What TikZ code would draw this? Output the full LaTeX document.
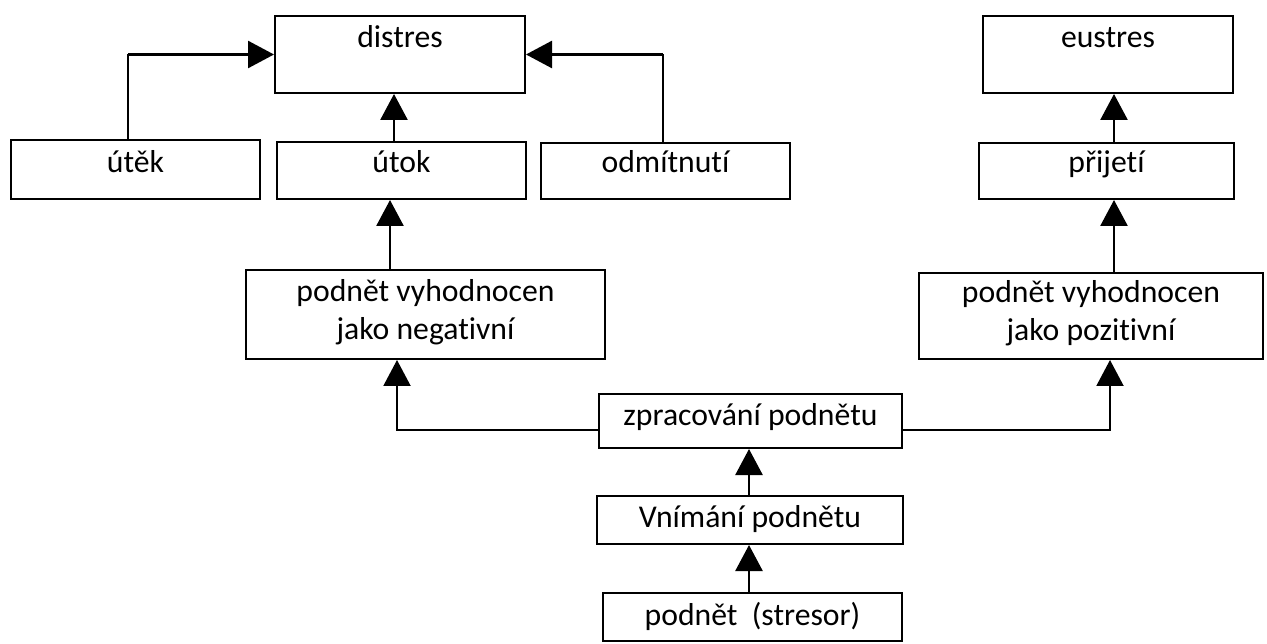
\documentclass[tikz,border=0pt]{standalone}
\usepackage{fontspec}
\setmainfont{Carlito}[Ligatures=NoCommon]
\usetikzlibrary{arrows.meta}
\tikzset{
  box/.style={draw, line width=2pt, rectangle, inner sep=0pt},
  txt/.style={anchor=base, inner sep=0pt, align=center,
    font=\fontsize{31.7pt}{38.5pt}\selectfont},
  arr/.style={line width=2.6pt, -{Triangle[length=26pt,width=27pt]}},
  arrthin/.style={line width=2.1pt, -{Triangle[length=26pt,width=27pt]}},
  plain/.style={line width=1.8pt}
}
\begin{document}
\begin{tikzpicture}[x=1pt,y=-1pt]
\useasboundingbox (0,0) rectangle (1267,644);

% boxes
\node[box, minimum width=250pt, minimum height=77pt] (distres) at (400,54.5) {};
\node[box, minimum width=250pt, minimum height=77pt] (eustres) at (1108,54.5) {};
\node[box, minimum width=249pt, minimum height=59pt] (utek) at (135.5,169.5) {};
\node[box, minimum width=249pt, minimum height=57pt] (utok) at (401.5,170.5) {};
\node[box, minimum width=249pt, minimum height=56pt] (odm) at (665.5,171) {};
\node[box, minimum width=255pt, minimum height=56pt] (prijeti) at (1106.5,171) {};
\node[box, minimum width=359pt, minimum height=89pt] (neg) at (425.5,314.5) {};
\node[box, minimum width=344pt, minimum height=86pt] (pos) at (1091,316) {};
\node[box, minimum width=303pt, minimum height=54pt] (zprac) at (750.5,421) {};
\node[box, minimum width=306pt, minimum height=48pt] (vnim) at (750,520) {};
\node[box, minimum width=299pt, minimum height=48pt] (podnet) at (752.5,617) {};

% labels, set near the top of each box (base = last line)
\node[txt] (distres-t) at ([yshift=-33pt]distres.north) {distres};
\node[txt] (eustres-t) at ([yshift=-33pt]eustres.north) {eustres};
\node[txt] (utek-t) at ([yshift=-34pt]utek.north) {útěk};
\node[txt] (utok-t) at ([yshift=-32pt]utok.north) {útok};
\node[txt] (odm-t) at ([yshift=-31pt]odm.north) {odmítnutí};
\node[txt] (prijeti-t) at ([yshift=-31pt]prijeti.north) {přijetí};
\node[txt] (neg-t) at ([yshift=-71pt]neg.north) {podnět vyhodnocen\\jako negativní};
\node[txt] (pos-t) at ([yshift=-69pt]pos.north) {podnět vyhodnocen\\jako pozitivní};
\node[txt] (zprac-t) at ([yshift=-32pt]zprac.north) {zpracování podnětu};
\node[txt] (vnim-t) at ([yshift=-32pt]vnim.north) {Vnímání podnětu};
\node[txt] (podnet-t) at ([yshift=-33pt]podnet.north) {podnět\ \ (stresor)};

% connectors into distres
\coordinate (k1) at ([xshift=-7.5pt]utek.north |- distres.west);
\draw[plain] ([xshift=-7.5pt]utek.north) -- (k1);
\draw[arr] (k1) -- (distres.west);
\coordinate (k2) at ([xshift=-2.5pt]odm.north |- distres.east);
\draw[plain] ([xshift=-2.5pt]odm.north) -- (k2);
\draw[arr] (k2) -- (distres.east);
\draw[arr] ([xshift=-7.5pt]utok.north) -- ([xshift=-7.5pt]utok.north |- distres.south);

% negative branch
\draw[arr] ([xshift=-35.5pt]neg.north) -- ([xshift=-35.5pt]neg.north |- utok.south);
\draw[arrthin] ([yshift=-9pt]zprac.west) -| ([xshift=-28.5pt]neg.south);

% positive branch
\draw[arrthin] ([yshift=-9pt]zprac.east) -| ([xshift=19pt]pos.south);
\draw[arr] ([xshift=23pt]pos.north) -- ([xshift=23pt]pos.north |- prijeti.south);
\draw[arr] ([xshift=7.5pt]prijeti.north) -- ([xshift=7.5pt]prijeti.north |- eustres.south);

% stimulus chain
\draw[arr] ([xshift=-1pt]vnim.north) -- ([xshift=-1pt]vnim.north |- zprac.south);
\draw[arr] ([xshift=-3.5pt]podnet.north) -- ([xshift=-3.5pt]podnet.north |- vnim.south);
\end{tikzpicture}
\end{document}
